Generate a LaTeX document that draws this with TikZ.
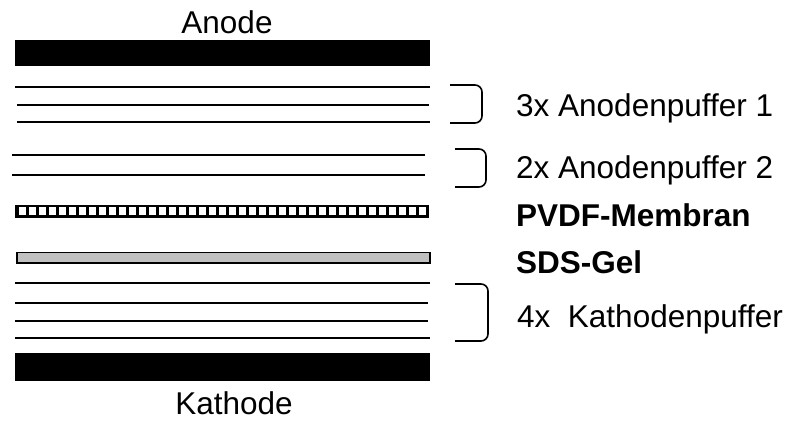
\documentclass[tikz,border=0pt]{standalone}
\usepackage{fontspec}
\setmainfont{Liberation Sans}
\begin{document}
\begin{tikzpicture}[x=1pt,y=-1pt,
  electrode/.style={fill=black,draw=none},
  buffer/.style={line width=1.7pt},
  brace/.style={line width=1.6pt,rounded corners=7pt},
  lbl/.style={font=\fontsize{31.5}{36}\selectfont,inner sep=0pt,anchor=base west},
  bold lbl/.style={lbl,font=\fontsize{31.5}{36}\selectfont\bfseries},
  title/.style={font=\fontsize{31.5}{36}\selectfont,inner sep=0pt,anchor=base}]
\useasboundingbox (0,0) rectangle (791,421);

% electrodes
\fill[electrode] (15,40) rectangle (430,66);
\fill[electrode] (15,353) rectangle (430,381);
\node[title] (anode) at (227,33) {Anode};
\node[title] (kathode) at (234,414) {Kathode};

% anode buffer 1 (3 sheets)
\draw[buffer] (15,87) -- (430,87);
\draw[buffer] (17,105) -- (429,105);
\draw[buffer] (17,122) -- (430,122);
\draw[brace] (450,85) -- (482,85) -- (482,123) -- (450,123);
\node[lbl] (ap1) at (516,116) {3x Anodenpuffer 1};

% anode buffer 2 (2 sheets)
\draw[buffer] (12,155) -- (425,155);
\draw[buffer] (12,175) -- (425,175);
\draw[brace] (455,149) -- (486,149) -- (486,187) -- (455,187);
\node[lbl] (ap2) at (516,178) {2x Anodenpuffer 2};

% PVDF membrane: black strip with white windows
\fill[black] (15,204.5) rectangle (429,217.5);
\foreach \i in {0,...,40}
  \fill[white] ({18.5+10.02*\i},207) rectangle ({25.5+10.02*\i},215);
\node[bold lbl] (pvdf) at (516,226) {PVDF-Membran};

% SDS gel
\draw[line width=1.5pt,fill={rgb,255:red,192;green,192;blue,192}] (17,252.5) rectangle (430,263);
\node[bold lbl] (gel) at (516,273) {SDS-Gel};

% cathode buffer (4 sheets)
\draw[buffer] (15,283) -- (430,283);
\draw[buffer] (15,303) -- (428,303);
\draw[buffer] (15,321) -- (428,321);
\draw[buffer] (15,338) -- (430,338);
\draw[brace] (455,284) -- (488,284) -- (488,341) -- (455,341);
\node[lbl] (kp) at (517,327) {4x\ \ Kathodenpuffer};
\end{tikzpicture}
\end{document}
